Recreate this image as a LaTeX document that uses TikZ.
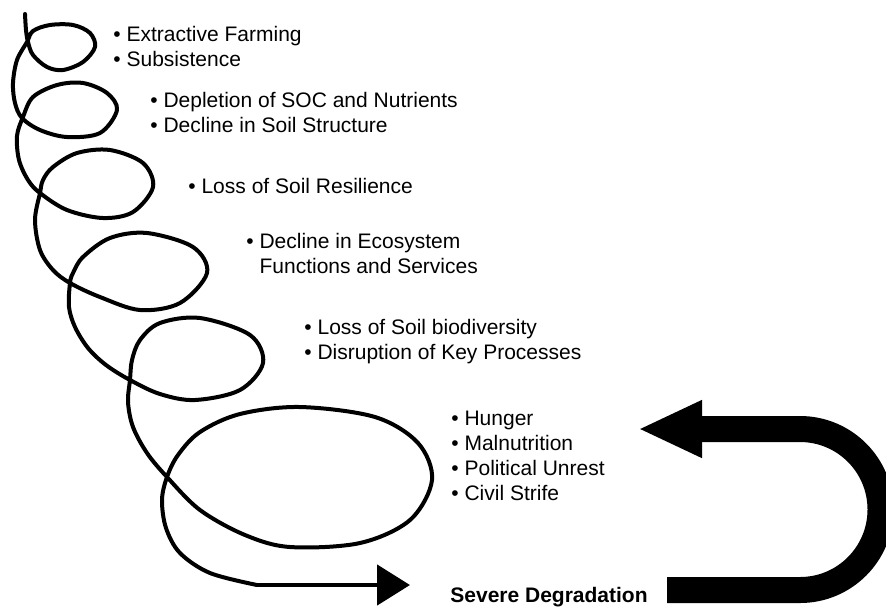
\documentclass[tikz,border=0pt]{standalone}
\usepackage{fontspec}
\setmainfont{Liberation Sans}
\usetikzlibrary{arrows.meta}

\tikzset{
  stage text/.style={anchor=base west, inner sep=0pt, align=left,
    font=\fontsize{10.5}{12.5}\selectfont},
  coil/.style={draw, line width=2pt, line join=round, line cap=round},
  coil end/.style={draw, line width=2.4pt, -{Triangle[length=16.5pt,width=20pt]}},
  return arrow/.style={draw, line width=13pt, -{Triangle[length=32pt,width=26.5pt]}}
}

\begin{document}
\begin{tikzpicture}[x=0.5pt,y=0.5pt]
  \useasboundingbox (0,0) rectangle (886,-606);

  %%%%%%%%%%%%%%%%%%%%%%%%%%%%%%%%%%%%%%%%%%%%%%%%%%%%%%%%%%%%%%
  %                   STAGES OF DEGRADATION                    %
  %%%%%%%%%%%%%%%%%%%%%%%%%%%%%%%%%%%%%%%%%%%%%%%%%%%%%%%%%%%%%%
  % (base of a block = baseline of its last line)

  \node [stage text] at (113,-66) (extractive) {• Extractive Farming\\• Subsistence};
  \node [stage text] at (150,-132) (depletion) {• Depletion of SOC and Nutrients\\• Decline in Soil Structure};
  \node [stage text] at (188,-193) (resilience) {• Loss of Soil Resilience};
  \node [stage text] at (246,-273) (ecosystem) {• Decline in Ecosystem\\\hphantom{• }Functions and Services};
  \node [stage text] at (304,-359) (biodiversity) {• Loss of Soil biodiversity\\• Disruption of Key Processes};
  \node [stage text] at (451,-500) (hunger) {• Hunger\\• Malnutrition\\• Political Unrest\\• Civil Strife};
  \node [stage text, font=\fontsize{10.5}{12.5}\selectfont\bfseries] at (450,-602) (severe) {Severe Degradation};

  %%%%%%%%%%%%%%%%%%%%%%%%%%%%%%%%%%%%%%%%%%%%%%%%%%%%%%%%%%%%%%
  %                   DOWNWARD SPIRAL                          %
  %%%%%%%%%%%%%%%%%%%%%%%%%%%%%%%%%%%%%%%%%%%%%%%%%%%%%%%%%%%%%%

  \coordinate (spiral-tip) at (410,-585);
  \draw [coil] plot [smooth, tension=0.55] coordinates {
    (25,-14) (26,-30) (28,-42) (33,-55) (47,-67) (63,-70) (83,-62) (95,-47)
    (90,-33) (73,-25) (50,-25) (33,-31) (27,-42) (17,-60) (13,-83) (15,-103)
    (22,-118) (40,-130) (67,-137) (100,-133) (117,-110) (107,-93) (83,-83)
    (57,-85) (33,-97) (23,-117) (17,-136) (19,-160) (28,-180) (40,-193)
    (67,-210) (103,-218) (133,-212) (153,-187) (143,-163) (110,-150) (77,-153)
    (53,-167) (43,-180) (40,-193) (35,-220) (40,-250) (53,-270) (70,-283)
    (100,-297) (140,-310) (180,-303) (207,-273) (193,-247) (147,-233)
    (110,-238) (83,-257) (73,-273) (70,-283) (69,-307) (75,-327) (88,-348)
    (106,-365) (130,-380) (160,-394) (195,-400) (240,-390) (263,-363)
    (250,-335) (200,-318) (160,-323) (140,-340) (132,-360) (130,-380)
    (128,-402) (133,-427) (147,-453) (167,-477) (200,-510) (245,-535)
    (290,-547) (360,-543) (410,-520) (432,-480) (418,-443) (375,-417)
    (300,-407) (240,-414) (200,-432) (178,-455) (167,-477) (162,-500)
    (166,-528) (180,-553) (210,-573) (257,-585)};
  \draw [coil end] (256,-585) -- (spiral-tip);

  %%%%%%%%%%%%%%%%%%%%%%%%%%%%%%%%%%%%%%%%%%%%%%%%%%%%%%%%%%%%%%
  %                   FEEDBACK LOOP                            %
  %%%%%%%%%%%%%%%%%%%%%%%%%%%%%%%%%%%%%%%%%%%%%%%%%%%%%%%%%%%%%%

  \coordinate (return-start) at (667,-590);
  \coordinate (return-tip) at (638,-429);
  \draw [return arrow] (return-start) -- (800,-590)
    arc [start angle=-90, end angle=90, radius=80.5] -- (return-tip);

\end{tikzpicture}
\end{document}
